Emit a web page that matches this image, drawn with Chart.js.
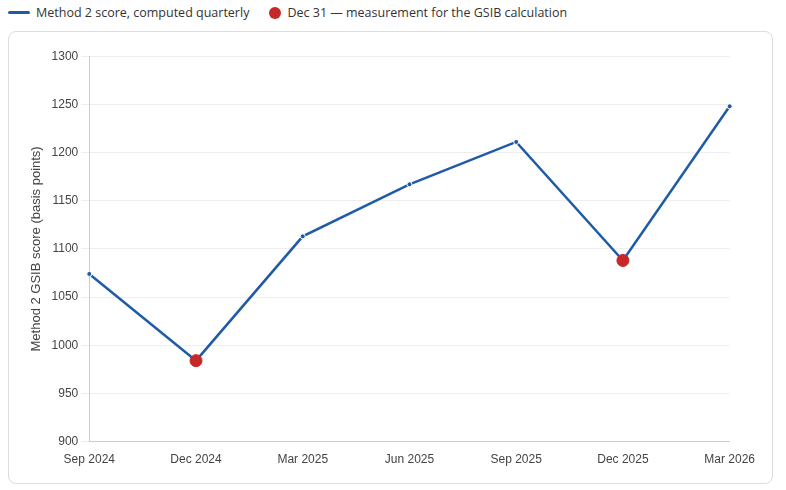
<!DOCTYPE html>
<html><head><meta charset="utf-8">
<script src="https://cdn.jsdelivr.net/npm/chart.js@4"></script>
<style>
body{margin:0;background:#fff;font-family:"Open Sans",Arial,sans-serif;}
#legend{position:absolute;left:8px;top:4px;font-size:12.5px;color:#333;display:flex;align-items:center;}
.item{display:flex;align-items:center;margin-right:20px;}
.line{width:22px;height:3px;background:#1f5ba6;margin-right:6px;border-radius:2px;}
.dot{width:12px;height:12px;border-radius:50%;background:#c62828;margin-right:6px;}
#card{position:absolute;left:8px;top:31px;width:763px;height:451px;border:1px solid #ddd;border-radius:8px;}
#wrap{position:absolute;left:16px;top:14px;width:733px;height:424px;}
</style></head><body>
<div id="legend"><div class="item"><div class="line"></div>Method 2 score, computed quarterly</div><div class="item"><div class="dot"></div>Dec 31 — measurement for the GSIB calculation</div></div>
<div id="card"><div id="wrap"><canvas id="c"></canvas></div></div>
<script>
const labels=["Sep 2024","Dec 2024","Mar 2025","Jun 2025","Sep 2025","Dec 2025","Mar 2026"];
const scores=[1074,984,1113,1167,1211,1088,1248];
const dec31=[null,984,null,null,null,1088,null];
new Chart(document.getElementById('c'),{
type:'line',
data:{labels:labels,datasets:[
{label:'Dec 31',data:dec31,showLine:false,pointRadius:6,pointHoverRadius:6,pointBackgroundColor:'#c62828',pointBorderColor:'#c62828',borderColor:'#c62828'},
{label:'Method 2',data:scores,borderColor:'#1f5ba6',borderWidth:2.5,pointRadius:2.5,pointBackgroundColor:'#1f5ba6',pointBorderColor:'#fff',pointBorderWidth:1,tension:0}
]},
options:{responsive:true,maintainAspectRatio:false,animation:false,
plugins:{legend:{display:false},tooltip:{enabled:false}},
scales:{
x:{offset:false,grid:{display:false},border:{color:'#ccc'},ticks:{color:'#444',font:{size:12},maxRotation:0}},
y:{min:900,max:1300,ticks:{stepSize:50,color:'#444',font:{size:12},callback:v=>String(v)},grid:{color:'#eee'},border:{color:'#ccc'},
title:{display:true,text:'Method 2 GSIB score (basis points)',color:'#444',font:{size:13}}}
}}});
</script></body></html>
